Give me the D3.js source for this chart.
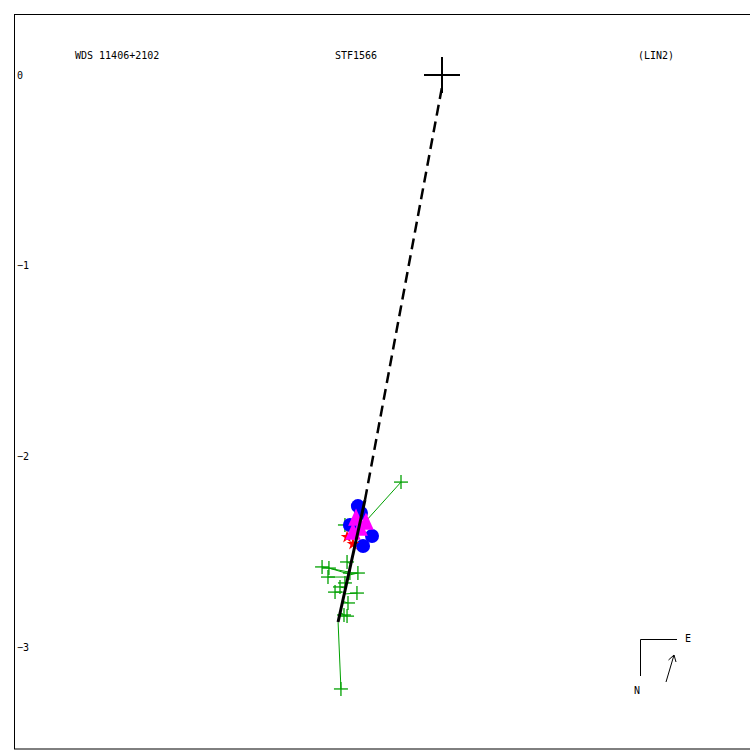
<!DOCTYPE html>
<html><head><meta charset="utf-8">
<script src="https://cdn.jsdelivr.net/npm/d3@7"></script>
<style>html,body{margin:0;padding:0;background:#fff;}svg{display:block;}</style>
</head><body>
<svg id="c" width="750" height="750"></svg>
<script>
// ---- data (arcsec) ----
const yTicks = [0, -1, -2, -3];
const titleLeft = "WDS 11406+2102";
const titleMid = "STF1566";
const titleRight = "(LIN2)";
// green observations (x, y) and their predicted positions on the linear fit
const obsX  = [-0.215,-0.509,-0.629,-0.593,-0.598,-0.498,-0.441,-0.483,-0.509,-0.535,-0.561,-0.446,-0.493,-0.514,-0.498,-0.530];
const obsY  = [-2.135,-2.360,-2.580,-2.586,-2.633,-2.554,-2.612,-2.612,-2.664,-2.685,-2.712,-2.717,-2.769,-2.832,-2.838,-3.220];
const fitX  = [-0.441,-0.446,-0.488,-0.488,-0.493,-0.477,-0.488,-0.488,-0.504,-0.509,-0.514,-0.514,-0.525,-0.535,-0.535,-0.545];
const fitY  = [-2.386,-2.397,-2.607,-2.617,-2.633,-2.565,-2.623,-2.617,-2.670,-2.691,-2.712,-2.722,-2.759,-2.817,-2.822,-2.869];
// other observation types
const circX = [-0.441,-0.425,-0.483,-0.367,-0.414];
const circY = [-2.261,-2.297,-2.360,-2.418,-2.470];
const triX  = [-0.451,-0.399,-0.467,-0.430];
const triY  = [-2.334,-2.355,-2.407,-2.386];
const starX = [-0.498,-0.467];
const starY = [-2.423,-2.460];
// linear fit segment and line to primary
const lineX = [-0.545, -0.404];
const lineY = [-2.869, -2.229];
const primary = [0, 0];

// ---- scales ----
const k = 190.67;
const y = d3.scaleLinear().domain([0, -3]).range([75, 75 + 3 * k]);
const x = d3.scaleLinear().domain([-2, 1]).range([442 - 2 * k, 442 + k]);

const svg = d3.select("#c");
const font = "'DejaVu Sans Mono', monospace";

// frame
svg.append("rect").attr("x", 14.5).attr("y", 14.5).attr("width", 760).attr("height", 734.5)
  .attr("fill", "none").attr("stroke", "#000").attr("stroke-width", 1);

// titles
[[75, titleLeft], [335, titleMid], [638, titleRight]].forEach(([px, t]) => {
  svg.append("text").attr("x", px).attr("y", 59).text(t)
    .attr("font-family", font).attr("font-size", 10).attr("fill", "#000");
});

// y tick labels
const yAxis = d3.axisRight(y).tickValues(yTicks).tickSize(0).tickPadding(0)
  .tickFormat(d => d === 0 ? "0" : "\u2212" + Math.abs(d));
const ga = svg.append("g").attr("transform", "translate(17,0)").call(yAxis);
ga.select(".domain").remove();
ga.selectAll("text").attr("font-family", font).attr("font-size", 10).attr("fill", "#000")
  .attr("dy", "0.32em");

const green = "#00a000";
const obs = obsX.map((d, i) => ({x: d, y: obsY[i], fx: fitX[i], fy: fitY[i]}));

// residual lines
svg.append("g").selectAll("line").data(obs).join("line")
  .attr("x1", d => x(d.x)).attr("y1", d => y(d.y))
  .attr("x2", d => x(d.fx)).attr("y2", d => y(d.fy))
  .attr("stroke", green).attr("stroke-width", 1);
// crosses
const cs = 7;
const gc = svg.append("g").attr("stroke", green).attr("stroke-width", 1.3);
obs.forEach(d => {
  gc.append("line").attr("x1", x(d.x) - cs).attr("x2", x(d.x) + cs).attr("y1", y(d.y)).attr("y2", y(d.y));
  gc.append("line").attr("x1", x(d.x)).attr("x2", x(d.x)).attr("y1", y(d.y) - cs).attr("y2", y(d.y) + cs);
});

// blue circles
svg.append("g").selectAll("circle").data(circX.map((d, i) => [d, circY[i]])).join("circle")
  .attr("cx", d => x(d[0])).attr("cy", d => y(d[1])).attr("r", 7).attr("fill", "#0000ff");

// red stars
const starSym = d3.symbol().type(d3.symbolStar).size(50);
svg.append("g").selectAll("path").data(starX.map((d, i) => [d, starY[i]])).join("path")
  .attr("d", starSym).attr("transform", d => `translate(${x(d[0])},${y(d[1])})`).attr("fill", "#ff0000");

// magenta triangles
const triSym = d3.symbol().type(d3.symbolTriangle).size(130);
svg.append("g").selectAll("path").data(triX.map((d, i) => [d, triY[i]])).join("path")
  .attr("d", triSym).attr("transform", d => `translate(${x(d[0])},${y(d[1])}) scale(0.9,1.15)`).attr("fill", "#ff00ff");

// dashed line to primary
svg.append("line").attr("x1", x(lineX[1])).attr("y1", y(lineY[1]))
  .attr("x2", x(primary[0])).attr("y2", y(primary[1]) + 12)
  .attr("stroke", "#000").attr("stroke-width", 2.5).attr("stroke-dasharray", "11,6");
// solid fit line
svg.append("line").attr("x1", x(lineX[0])).attr("y1", y(lineY[0]))
  .attr("x2", x(lineX[1])).attr("y2", y(lineY[1]))
  .attr("stroke", "#000").attr("stroke-width", 3);

// primary cross
const pc = 18;
svg.append("line").attr("x1", x(primary[0]) - pc).attr("x2", x(primary[0]) + pc)
  .attr("y1", y(primary[1])).attr("y2", y(primary[1])).attr("stroke", "#000").attr("stroke-width", 2);
svg.append("line").attr("x1", x(primary[0])).attr("x2", x(primary[0]))
  .attr("y1", y(primary[1]) - pc).attr("y2", y(primary[1]) + pc).attr("stroke", "#000").attr("stroke-width", 2);

// compass
const cg = svg.append("g").attr("stroke", "#000").attr("stroke-width", 1).attr("fill", "none");
cg.append("path").attr("d", "M677,639.5 H640.5 V676");
cg.append("path").attr("d", "M666,682 L674,655");
cg.append("path").attr("d", "M668.5,660 L674,655 L676,662");
svg.append("text").attr("x", 685).attr("y", 642).text("E").attr("font-family", font).attr("font-size", 10).attr("fill", "#000");
svg.append("text").attr("x", 634).attr("y", 694).text("N").attr("font-family", font).attr("font-size", 10).attr("fill", "#000");
</script>
</body></html>
